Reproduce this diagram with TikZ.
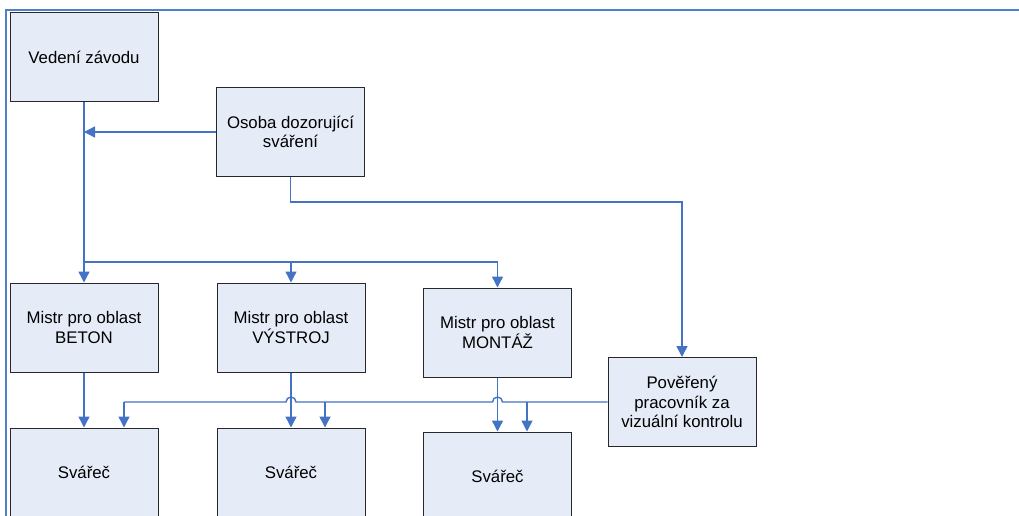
\documentclass[tikz,border=0pt]{standalone}
\usepackage{fontspec}
\setmainfont{Liberation Sans}
\usetikzlibrary{arrows.meta}
\definecolor{boxfill}{RGB}{230,236,247}
\definecolor{boxdraw}{RGB}{40,40,40}
\definecolor{connc}{RGB}{68,114,196}
\definecolor{framec}{RGB}{79,129,200}
\begin{document}
\begin{tikzpicture}[x=1pt,y=-1pt,
  box/.style={draw=boxdraw, fill=boxfill, line width=1pt, minimum width=148pt, minimum height=89pt, inner sep=0pt, align=center, font=\fontsize{16.8}{19.5}\selectfont},
  link/.style={draw=connc, line width=1.4pt},
  arr/.style={link, -{Triangle[width=11pt,length=11pt]}},
]
\useasboundingbox (0,0) rectangle (1019,515);
\clip (0,0) rectangle (1019,515);
\draw[draw=framec, line width=2pt] (6,520) -- (6,10) -- (1025,10);

\node[box] (ved) at (84,57) {Vedení závodu};
\node[box] (osoba) at (290.5,132) {Osoba dozorující\\sváření};
\node[box] (beton) at (84,327.5) {Mistr pro oblast\\BETON};
\node[box] (vystroj) at (291,327.5) {Mistr pro oblast\\VÝSTROJ};
\node[box] (montaz) at (497.5,332.5) {Mistr pro oblast\\MONTÁŽ};
\node[box] (pov) at (682,402) {Pověřený\\pracovník za\\vizuální kontrolu};
\node[box] (s1) at (84,472.5) {Svářeč};
\node[box] (s2) at (291,472.5) {Svářeč};
\node[box] (s3) at (497.5,476.5) {Svářeč};

% from Vedení závodu
\coordinate (bus) at (84,262);
\draw[arr] (ved.south) -- (beton.north);
\draw[arr] (bus) -| (vystroj.north);
\draw[arr] (bus) -| (montaz.north);

% from Osoba dozorující sváření
\draw[arr] (osoba.west) -- (ved.south |- osoba.west);
\coordinate (obend) at (290.5,202);
\draw[arr] (osoba.south) -- (obend) -| (pov.north);

% Mistr to Svářeč
\draw[arr] (beton.south) -- (s1.north);
\draw[arr] (vystroj.south) -- (s2.north);
\draw[arr] (montaz.south) -- (s3.north);

% Pověřený to Svářeč
\coordinate (d1) at (124,402);
\coordinate (d2) at (325,402);
\coordinate (d3) at (527,402);
\draw[link] (pov.west) -- ([xshift=5pt]montaz.south |- pov.west)
  arc[start angle=0,end angle=180,radius=5pt]
  -- ([xshift=5pt]vystroj.south |- pov.west)
  arc[start angle=0,end angle=180,radius=5pt]
  -- (d1);
\draw[arr] (d1) -- (d1 |- s1.north);
\draw[arr] (d2) -- (d2 |- s2.north);
\draw[arr] (d3) -- (d3 |- s3.north);
\end{tikzpicture}
\end{document}
